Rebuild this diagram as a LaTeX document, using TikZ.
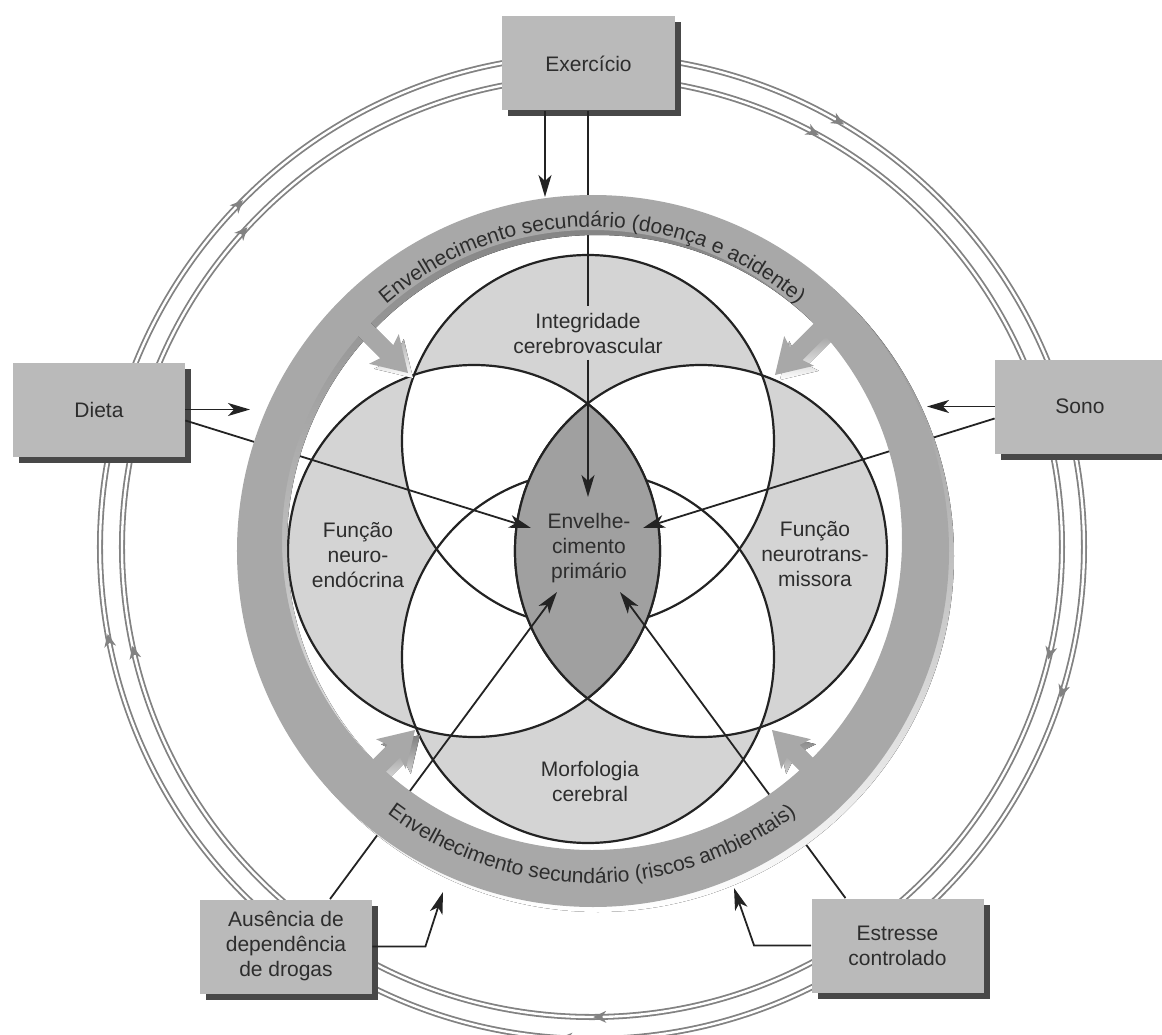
\documentclass[tikz,border=0pt]{standalone}
\usepackage{fontspec}
\setmainfont{Liberation Sans}
\usetikzlibrary{arrows.meta,calc,decorations.text,shadows}
\definecolor{ink}{RGB}{35,35,35}
\definecolor{txt}{RGB}{45,45,45}
\definecolor{boxgray}{RGB}{186,186,186}
\definecolor{bandgray}{RGB}{168,168,168}
\definecolor{circgray}{RGB}{212,212,212}
\definecolor{lensgray}{RGB}{160,160,160}
\definecolor{shade}{RGB}{72,72,72}
\definecolor{ringgray}{RGB}{130,130,130}

\begin{document}
\begin{tikzpicture}[x=0.5pt,y=0.5pt,
  font=\fontsize{10.5}{12.5}\selectfont, text=txt,
  factorbox/.style={fill=boxgray, minimum width=86pt, minimum height=47pt,
    inner sep=0pt, align=center,
    drop shadow={shadow xshift=3pt, shadow yshift=-3pt, fill=shade, opacity=1}},
  vtext/.style={align=center, inner sep=3pt},
  conn/.style={draw=ink, line width=0.9pt},
  arr/.style={conn, -{Stealth[length=11pt,width=6.5pt,inset=3pt]}},
  ring/.style={draw=ringgray, line width=0.9pt, double=white, double distance=1.2pt},
  venn/.style={draw=ink, line width=1.1pt},
  bandtext/.style={decorate, decoration={text along path, text align=center, text={#1}}},
]

\useasboundingbox (-592,-489) rectangle (570,545);

% outer feedback rings with small flow marks (clockwise)
\draw[ring] (0,-2) circle[radius=470];
\draw[ring] (0,-2) circle[radius=492];
\foreach \r/\a in {470/138, 492/136, 470/62, 492/60, 470/-13, 492/-17,
                   470/-89, 492/-93, 470/193, 492/191}
  \fill[ringgray, shift={(0,-2)}, rotate=\a, shift={(\r,0)}, rotate=-90]
    (7,0) -- (-6,6) -- (-2,0) -- (-6,-6) -- cycle;

% four overlapping domains
\coordinate (cT) at (-4,104);
\coordinate (cB) at (-4,-112);
\coordinate (cL) at (-118,-6);
\coordinate (cR) at (109,-6);
\foreach \c in {cT,cB,cL,cR} \fill[circgray] (\c) circle[radius=186];
\foreach \a/\b in {cT/cL,cT/cR,cB/cL,cB/cR,cT/cB,cL/cR} {
  \begin{scope}
    \clip (\a) circle[radius=186];
    \fill[white] (\b) circle[radius=186];
  \end{scope}
}
\foreach \c in {cT,cB,cL,cR} \draw[venn] (\c) circle[radius=186];
% central lens
\begin{scope}
  \clip (cL) circle[radius=186];
  \fill[lensgray] (cR) circle[radius=186];
  \draw[venn] (cR) circle[radius=186];
\end{scope}
\begin{scope}
  \clip (cR) circle[radius=186];
  \draw[venn] (cL) circle[radius=186];
\end{scope}

% factor boxes
\node[factorbox] (ex) at (-3.5,481.5) {Exercício};
\node[factorbox] (dieta) at (-493,135.5) {Dieta};
\node[factorbox, minimum width=85pt] (sono) at (488,138.5) {Sono};
\node[factorbox] (aus) at (-306,-401.5) {Ausência de\\dependência\\de drogas};
\node[factorbox] (est) at (305.5,-400.5) {Estresse\\controlado};

% domain labels
\node[vtext] (integ) at (-4,212) {Integridade\\cerebrovascular};
\node[vtext] (endo) at (-234,-10) {Função\\neuro-\\endócrina};
\node[vtext] (trans) at (223,-9) {Função\\neurotrans-\\missora};
\node[vtext] (morf) at (-2,-236) {Morfologia\\cerebral};
\node[vtext] (prim) at (-3,-3) {Envelhe-\\cimento\\primário};

% arrow ends at the primary-ageing core and at the secondary-ageing band
\coordinate (pE) at (-4,48);
\coordinate (pD) at (-61,17);
\coordinate (pS) at (51,17);
\coordinate (pA) at (-35,-47);
\coordinate (pR) at (28,-47);
\coordinate (eE) at (-47,348);
\coordinate (eD) at (-342,136);
\coordinate (eS) at (335,138);
\coordinate (eA) at (-149,-347);
\coordinate (eR) at (142,-343);

% connectors
\draw[arr] (ex.south -| eE) -- (eE);
\draw[conn] (ex.south -| integ.north) -- (integ.north);
\draw[arr] (integ.south) -- (pE);
\draw[arr] (dieta.east) -- (dieta.east -| eD);
\draw[arr] ($(dieta.east)+(0,-11)$) -- (pD);
\draw[arr] (sono.west) -- (sono.west -| eS);
\draw[arr] ($(sono.west)+(0,-12)$) -- (pS);
\draw[arr] ($(aus.north)+(44,0)$) -- (pA);
\draw[arr] (aus.east) -- ++(53,0) -- (eA);
\draw[arr] ($(est.north)+(-52,0)$) -- (pR);
\draw[arr] (est.west) -- ++(-57,0) -- (eR);

% secondary-ageing band with its inward arrows
\fill[shade, even odd rule] (6,-11) circle[radius=356] (5,0) circle[radius=310];
\foreach \x/\y/\a in {-184/172/-45, 183/170/-135, -177/-185/45, 180/-185/135}
  \fill[shade, shift={(\x+5,\y-5)}, rotate=\a]
    (0,0) -- (-34,21) -- (-30,9) -- (-80,9) -- (-80,-9) -- (-30,-9) -- (-34,-21) -- cycle;
\fill[bandgray, even odd rule] (1,-6) circle[radius=356] (0,5) circle[radius=310];
\foreach \x/\y/\a in {-184/172/-45, 183/170/-135, -177/-185/45, 180/-185/135}
  \fill[bandgray, shift={(\x,\y)}, rotate=\a]
    (0,0) -- (-34,21) -- (-30,9) -- (-80,9) -- (-80,-9) -- (-30,-9) -- (-34,-21) -- cycle;

\path[bandtext={|\fontsize{10.5}{12}\selectfont\color{txt}|Envelhecimento secundário (doença e acidente)}]
  (0,5) ++(160:313) arc[start angle=160, end angle=20, radius=313];
\path[bandtext={|\fontsize{10.5}{12}\selectfont\color{txt}|Envelhecimento secundário (riscos ambientais)}]
  (0,0) ++(200:338) arc[start angle=200, end angle=340, radius=338];

\end{tikzpicture}
\end{document}
